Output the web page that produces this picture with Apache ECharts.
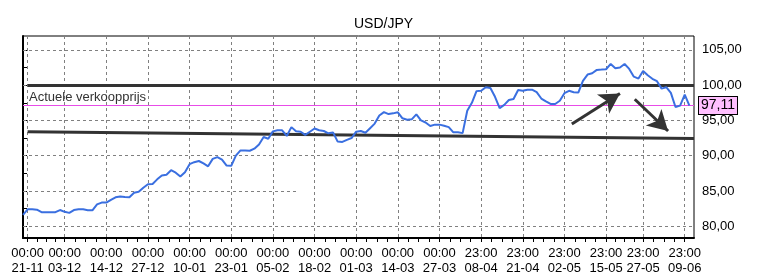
<!DOCTYPE html>
<html>
<head>
<meta charset="utf-8">
<script src="https://cdn.jsdelivr.net/npm/echarts@6/dist/echarts.min.js"></script>
<style>
  html, body { margin: 0; padding: 0; background: #fff; }
  #chart { width: 767px; height: 280px; }
</style>
</head>
<body>
<div id="chart"></div>
<script>
// USD/JPY koers, een punt per handelsdag
var prices = [
  81.6, 82.4, 82.4, 82.35, 82.0, 82.0, 82.0, 82.0, 82.3, 82.05,
  81.9, 82.3, 82.4, 82.4, 82.27, 82.27, 83.1, 83.36, 83.36, 83.75,
  84.1, 84.22, 84.15, 84.12, 84.75, 84.88, 85.45, 85.95, 86.0, 86.65,
  87.2, 87.3, 87.95, 87.6, 87.05, 87.67, 88.8, 89.08, 89.25, 88.9,
  88.5, 89.55, 89.8, 89.45, 88.6, 88.57, 90.0, 90.75, 90.75, 90.7,
  91.0, 91.6, 92.65, 92.4, 93.45, 93.6, 93.6, 92.8, 94.05, 93.45,
  93.4, 92.95, 93.4, 93.85, 93.6, 93.5, 93.17, 93.3, 92.0, 91.95,
  92.25, 92.5, 93.4, 93.5, 93.25, 93.9, 94.55, 95.7, 96.18, 95.9,
  96.0, 96.15, 95.3, 95.1, 95.15, 95.85, 95.0, 94.7, 94.2, 94.4,
  94.4, 94.25, 94.05, 93.31, 93.31, 93.2, 96.38, 97.5, 99.15, 99.2,
  99.7, 99.6, 98.35, 96.75, 97.2, 97.9, 98.04, 99.32, 99.2, 99.35,
  99.35, 99.0, 98.1, 97.7, 97.33, 97.33, 97.78, 98.85, 99.2, 99.0,
  98.95, 100.6, 101.5, 101.68, 102.16, 102.2, 102.25, 103.0, 102.4, 102.5,
  103.0, 102.3, 101.2, 100.93, 102.0, 101.4, 100.9, 100.55, 99.5, 99.7,
  98.9, 96.9, 97.1, 98.65, 97.11
];

var tickIdx = [1, 9, 18, 27, 36, 45, 54, 63, 72, 81, 90, 99, 108, 117, 126, 134, 143];
var tickLabels = [
  '00:00\n21-11', '00:00\n03-12', '00:00\n14-12', '00:00\n27-12', '00:00\n10-01',
  '00:00\n23-01', '00:00\n05-02', '00:00\n18-02', '00:00\n01-03', '00:00\n14-03',
  '00:00\n27-03', '23:00\n08-04', '23:00\n21-04', '23:00\n02-05', '23:00\n15-05',
  '23:00\n27-05', '23:00\n09-06'
];
var yLabels = [80, 85, 90, 95, 100, 105];
var yTicks = [80, 82.5, 85, 87.5, 90, 92.5, 95, 97.5, 100, 102.5, 105];

var lastPrice = 97.11;
var resistance = 100;
var supportStart = [1, 93.4];
var supportEnd = [145, 92.45];
var arrowUp = [[118.6, 94.5], [129.0, 98.82]];
var arrowDown = [[132.2, 98.0], [139.4, 93.5]];

var nCat = prices.length + 1;
var categories = [];
for (var i = 0; i < nCat; i++) categories.push(i);
var seriesData = prices.slice();
seriesData.push(null);

// kleine streepjes tussen de labels
var minorTicks = [];
for (var k = 0; k < tickIdx.length - 1; k++) {
  for (var s = 1; s < 4; s++) {
    minorTicks.push(tickIdx[k] + (tickIdx[k + 1] - tickIdx[k]) * s / 4);
  }
}

function isTick(idx) { return tickIdx.indexOf(idx) >= 0; }

var gridStyle = { color: '#808080', width: 1, type: [3, 3] };
var font = "'Liberation Sans', Arial, sans-serif";
var pink = '#e84ce8';

var myChart = echarts.init(document.getElementById('chart'));

option = {
  animation: false,
  backgroundColor: '#fff',
  textStyle: { fontFamily: font },
  title: {
    text: 'USD/JPY',
    left: 'center',
    top: 12,
    textStyle: { fontSize: 14, fontWeight: 'normal', color: '#000', fontFamily: font }
  },
  grid: {
    left: 23, right: 73, top: 36, bottom: 42,
    show: true, borderColor: '#000', borderWidth: 1, backgroundColor: '#fff'
  },
  xAxis: [
    {
      type: 'category',
      data: categories,
      boundaryGap: false,
      axisLine: { lineStyle: { color: '#000', width: 2 } },
      axisTick: { interval: function (idx) { return isTick(idx); }, length: 4, lineStyle: { color: '#000' } },
      axisLabel: {
        interval: function (idx) { return isTick(idx); },
        formatter: function (v, idx) { return tickLabels[tickIdx.indexOf(idx)] || ''; },
        color: '#000', fontSize: 13, lineHeight: 15, margin: 8, fontFamily: font
      },
      splitLine: { show: true, interval: function (idx) { return isTick(idx); }, lineStyle: gridStyle }
    },
    {
      type: 'value',
      min: 0,
      max: nCat - 1,
      position: 'bottom',
      axisLine: { show: false },
      axisLabel: { show: false },
      splitLine: { show: false },
      axisTick: { show: true, customValues: minorTicks, length: 4, lineStyle: { color: '#000' } }
    }
  ],
  yAxis: {
    type: 'value',
    position: 'right',
    min: 78.34,
    max: 106.96,
    axisLine: { show: true, lineStyle: { color: '#000', width: 2 } },
    axisTick: { show: true, customValues: yTicks, length: 4, lineStyle: { color: '#000' } },
    axisLabel: {
      customValues: yLabels,
      formatter: function (v) { return v.toFixed(2).replace('.', ','); },
      color: '#000', fontSize: 13, margin: 8, fontFamily: font
    },
    splitLine: { show: false }
  },
  series: [
    {
      name: 'grid',
      type: 'line',
      xAxisIndex: 1,
      data: [],
      z: 1,
      markLine: {
        silent: true,
        symbol: 'none',
        animation: false,
        label: { show: false },
        lineStyle: gridStyle,
        data: [
          { yAxis: 80 }, { yAxis: 90 }, { yAxis: 95 }, { yAxis: 100 }, { yAxis: 105 },
          [{ coord: [0, 85] }, { coord: [59.2, 85] }]
        ]
      }
    },
    {
      name: 'prijs',
      type: 'line',
      xAxisIndex: 1,
      data: [],
      z: 2,
      color: pink,
      markLine: {
        silent: true,
        symbol: 'none',
        animation: false,
        lineStyle: { color: pink, width: 1, type: 'solid', opacity: 1 },
        data: [
          [{ coord: [0, lastPrice],
             label: { show: true, position: 'insideStartTop', distance: [6, 2], formatter: 'Actuele verkoopprijs',
                      color: '#333', fontSize: 13, fontFamily: font } },
           { coord: [nCat - 1, lastPrice] }],
          [{ coord: [0, lastPrice],
             label: { show: true, position: 'end', distance: 5, formatter: lastPrice.toFixed(2).replace('.', ','),
                      color: '#000', fontSize: 14, fontFamily: font, backgroundColor: '#ffbfff',
                      borderColor: '#000', borderWidth: 1, padding: [2, 2, 1, 2] } },
           { coord: [nCat - 1, lastPrice] }]
        ]
      }
    },
    {
      name: 'lijnen',
      type: 'line',
      xAxisIndex: 1,
      data: [],
      z: 3,
      color: '#333',
      markLine: {
        silent: true,
        symbol: 'none',
        animation: false,
        label: { show: false },
        lineStyle: { color: '#333', width: 3, type: 'solid', opacity: 1 },
        data: [
          [{ coord: [1, resistance] }, { coord: [nCat - 1, resistance] }],
          [{ coord: supportStart }, { coord: supportEnd }]
        ]
      }
    },
    {
      name: 'USD/JPY',
      type: 'line',
      data: seriesData,
      showSymbol: false,
      symbol: 'none',
      z: 5,
      lineStyle: { color: '#3a6fe0', width: 2 }
    },
    {
      name: 'pijlen',
      type: 'line',
      xAxisIndex: 1,
      data: [],
      z: 6,
      color: '#333',
      markLine: {
        silent: true,
        symbol: ['none', 'arrow'],
        symbolSize: [17, 20],
        animation: false,
        label: { show: false },
        lineStyle: { color: '#333', width: 3, type: 'solid', opacity: 1 },
        data: [
          [{ coord: arrowUp[0] }, { coord: arrowUp[1] }],
          [{ coord: arrowDown[0] }, { coord: arrowDown[1] }]
        ]
      }
    }
  ]
};

myChart.setOption(option);
</script>
</body>
</html>
